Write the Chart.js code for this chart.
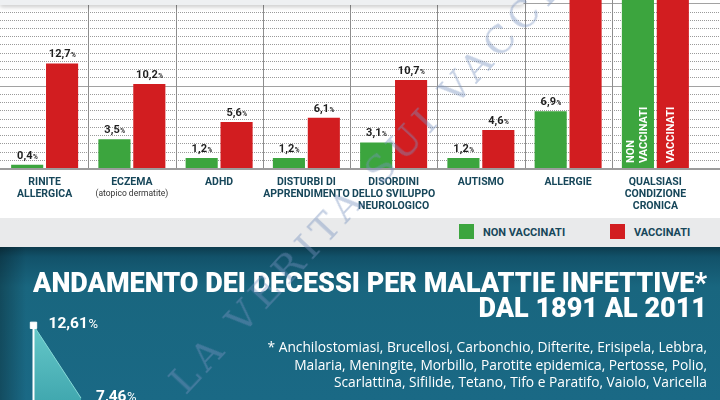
<!DOCTYPE html>
<html>
<head>
<meta charset="utf-8">
<script src="https://cdn.jsdelivr.net/npm/chart.js@4.4.0/dist/chart.umd.min.js"></script>
<style>
  html, body { margin: 0; padding: 0; width: 720px; height: 400px; overflow: hidden; background: #fff; }
  #wrap { position: relative; width: 720px; height: 400px; overflow: hidden; }
  #barCanvas { position: absolute; left: 0; top: 0; }
  #card { position: absolute; left: 0; top: 0; width: 525px; height: 5px; background: #eef0f2;
          border-bottom-right-radius: 6px; box-shadow: 0 2px 4px rgba(0,0,0,0.22); }
  #legendBand { position: absolute; left: 0; top: 218px; width: 720px; height: 29px; background: #e9eaeb; }
  .sw { position: absolute; top: 6px; width: 15px; height: 15px; }
  .lg { position: absolute; top: 0; font: 700 11px Roboto, sans-serif; line-height: 29px; color: #17475a; }
  #dark { position: absolute; left: 0; top: 247px; width: 720px; height: 153px;
          background: linear-gradient(to right, rgba(0,0,0,0.28) 0px, rgba(0,0,0,0) 26px),
                      linear-gradient(to bottom, #0d3c4e 0px, #12526a 10px, #19667f 40px, #1a6985 100%); }
  #areaCanvas { position: absolute; left: 0; top: 247px; }
  .title { position: absolute; color: #fff; font-family: Roboto, sans-serif; font-weight: 900; white-space: nowrap; line-height: 30px; }
  .note { position: absolute; right: 13px; color: #fff; font-family: "Open Sans", sans-serif; white-space: nowrap; line-height: 18px; }
  #watermark { position: absolute; left: 160px; top: 372px; transform-origin: 0 0; transform: rotate(-47deg);
               font: 38px "DejaVu Serif", serif; letter-spacing: 6px; white-space: nowrap;
               color: rgba(120, 145, 190, 0.42); pointer-events: none; }
</style>
</head>
<body>
<div id="wrap">
  <canvas id="barCanvas" width="720" height="218"></canvas>
  <div id="card"></div>
  <div id="legendBand">
    <div class="sw" style="left:459px;background:#3ca53e"></div>
    <div class="lg" style="left:483px">NON VACCINATI</div>
    <div class="sw" style="left:610px;background:#d21d20"></div>
    <div class="lg" style="left:634px">VACCINATI</div>
  </div>
  <div id="dark"></div>
  <canvas id="areaCanvas" width="720" height="262"></canvas>
  <div class="title" id="title1" style="left:33px;top:268px">ANDAMENTO DEI DECESSI PER MALATTIE INFETTIVE*</div>
  <div class="title" id="title2" style="right:13px;top:293px">DAL 1891 AL 2011</div>
  <div class="note" id="note1" style="top:338px">* Anchilostomiasi, Brucellosi, Carbonchio, Difterite, Erisipela, Lebbra,</div>
  <div class="note" id="note2" style="top:356px">Malaria, Meningite, Morbillo, Parotite epidemica, Pertosse, Polio,</div>
  <div class="note" id="note3" style="top:373px">Scarlattina, Sifilide, Tetano, Tifo e Paratifo, Vaiolo, Varicella</div>
  <div id="watermark">LA VERITA SUI VACCINI</div>
</div>

<script>
// Categories (one entry per line of the label)
const categories = [
    ['RINITE', 'ALLERGICA'],
    ['ECZEMA'],
    ['ADHD'],
    ['DISTURBI DI', 'APPRENDIMENTO'],
    ['DISORDINI', 'DELLO SVILUPPO', 'NEUROLOGICO'],
    ['AUTISMO'],
    ['ALLERGIE'],
    ['QUALSIASI', 'CONDIZIONE', 'CRONICA']
];
const categoryNotes = ['', '(atopico dermatite)', '', '', '', '', '', ''];

// Percentages (the last ones run off the top of the picture)
const nonVaccinati = [0.4, 3.5, 1.2, 1.2, 3.1, 1.2, 6.9, 25.0];
const vaccinati = [12.7, 10.2, 5.6, 6.1, 10.7, 4.6, 22.2, 44.0];

// Deaths from infectious diseases, share in %
const anniDecessi = [1891, 1900];
const quotaDecessi = [12.61, 7.46];

const GREEN = '#3ca53e';
const RED = '#d21d20';
const Y_MAX = 20.4;

// Format "12,7" with a small percent sign
function drawPercent(ctx, value, decimals, cx, cy, bigFont, smallFont, align) {
    const num = value.toFixed(decimals).replace('.', ',');
    ctx.font = bigFont;
    const w1 = ctx.measureText(num).width;
    ctx.font = smallFont;
    const w2 = ctx.measureText('%').width;
    let x = align === 'left' ? cx : cx - (w1 + w2) / 2;
    ctx.textAlign = 'left';
    ctx.textBaseline = 'alphabetic';
    ctx.font = bigFont;
    ctx.fillText(num, x, cy);
    ctx.font = smallFont;
    ctx.fillText('%', x + w1 + 0.5, cy);
}

// Grid, separators and baseline behind the bars
const barGrid = {
    id: 'barGrid',
    beforeDatasetsDraw(chart) {
        const ctx = chart.ctx;
        const y = chart.scales.y;
        const area = chart.chartArea;
        ctx.save();
        for (let v = 1; v <= 20; v++) {
            const py = Math.round(y.getPixelForValue(v)) + 0.5;
            ctx.beginPath();
            if (v % 10 === 0) {
                ctx.setLineDash([]);
                ctx.strokeStyle = '#a2a2a2';
            } else {
                ctx.setLineDash([1, 1]);
                ctx.strokeStyle = '#9a9a9a';
            }
            ctx.lineWidth = 1;
            ctx.moveTo(0, py);
            ctx.lineTo(720, py);
            ctx.stroke();
        }
        ctx.setLineDash([]);
        // vertical separators between categories
        const step = (area.right - area.left) / categories.length;
        ctx.strokeStyle = '#8e8e8e';
        for (let i = 1; i < categories.length; i++) {
            const px = Math.round(area.left + i * step) + 0.5;
            ctx.beginPath();
            ctx.moveTo(px, area.top);
            ctx.lineTo(px, area.bottom);
            ctx.stroke();
        }
        ctx.restore();
    },
    afterDatasetsDraw(chart) {
        const ctx = chart.ctx;
        const area = chart.chartArea;
        ctx.save();
        // baseline
        ctx.strokeStyle = '#9c9c9c';
        ctx.lineWidth = 2;
        ctx.beginPath();
        ctx.moveTo(0, area.bottom + 1);
        ctx.lineTo(720, area.bottom + 1);
        ctx.stroke();

        // value labels
        ctx.fillStyle = '#1e1e1e';
        chart.data.datasets.forEach((ds, di) => {
            chart.getDatasetMeta(di).data.forEach((el, i) => {
                if (ds.data[i] > Y_MAX) return;
                drawPercent(ctx, ds.data[i], 1, el.x, el.y - 6, '700 11px Roboto', '700 6.5px Roboto');
            });
        });

        // text inside the last (clipped) bars
        const g = chart.getDatasetMeta(0).data[7];
        const r = chart.getDatasetMeta(1).data[7];
        ctx.fillStyle = '#ffffff';
        ctx.font = '700 11px Roboto';
        ctx.textAlign = 'left';
        ctx.textBaseline = 'middle';
        ctx.save();
        ctx.translate(g.x, area.bottom - 5);
        ctx.rotate(-Math.PI / 2);
        ctx.fillText('NON', 0, -6.5);
        ctx.fillText('VACCINATI', 0, 6.5);
        ctx.restore();
        ctx.save();
        ctx.translate(r.x - 2, area.bottom - 5);
        ctx.rotate(-Math.PI / 2);
        ctx.fillText('VACCINATI', 0, 0);
        ctx.restore();

        // category labels under the axis
        const x = chart.scales.x;
        ctx.textAlign = 'center';
        ctx.textBaseline = 'middle';
        categories.forEach((lines, i) => {
            const px = x.getPixelForValue(i);
            ctx.fillStyle = '#17475a';
            ctx.font = '700 10.5px Roboto';
            lines.forEach((t, k) => ctx.fillText(t, px, 182.5 + k * 11.7));
            if (categoryNotes[i]) {
                ctx.fillStyle = '#333333';
                ctx.font = '400 8.5px Roboto';
                ctx.fillText(categoryNotes[i], px, 182.5 + lines.length * 11.7);
            }
        });
        ctx.restore();
    }
};

new Chart(document.getElementById('barCanvas').getContext('2d'), {
    type: 'bar',
    data: {
        labels: categories.map(c => c.join(' ')),
        datasets: [
            { label: 'NON VACCINATI', data: nonVaccinati, backgroundColor: GREEN,
              categoryPercentage: 0.8, barPercentage: 0.92 },
            { label: 'VACCINATI', data: vaccinati, backgroundColor: RED,
              categoryPercentage: 0.8, barPercentage: 0.92 }
        ]
    },
    options: {
        responsive: false,
        animation: false,
        layout: { padding: { left: 1, right: 21, top: 0, bottom: 50 } },
        plugins: { legend: { display: false }, tooltip: { enabled: false } },
        scales: {
            x: { display: false },
            y: { display: false, min: 0, max: Y_MAX }
        }
    },
    plugins: [barGrid]
});

// Area chart in the dark section
const areaExtras = {
    id: 'areaExtras',
    afterDatasetsDraw(chart) {
        const ctx = chart.ctx;
        const pts = chart.getDatasetMeta(0).data;
        const area = chart.chartArea;
        ctx.save();
        ctx.strokeStyle = '#ffffff';
        ctx.lineWidth = 2;
        ctx.beginPath();
        ctx.moveTo(pts[0].x, pts[0].y + 3);
        ctx.lineTo(pts[0].x, area.bottom);
        ctx.stroke();
        ctx.fillStyle = '#ffffff';
        pts.forEach((p, i) => {
            drawPercent(ctx, quotaDecessi[i], 2, p.x + 15, p.y + 3, '700 15.5px Roboto', '400 13px Roboto', 'left');
        });
        ctx.restore();
    }
};

new Chart(document.getElementById('areaCanvas').getContext('2d'), {
    type: 'line',
    data: {
        datasets: [{
            label: 'Decessi',
            data: anniDecessi.map((a, i) => ({ x: a, y: quotaDecessi[i] })),
            fill: 'origin',
            backgroundColor: (c) => {
                const area = c.chart.chartArea;
                if (!area) return '#52b8bb';
                const g = c.chart.ctx.createLinearGradient(0, 70, 0, 160);
                g.addColorStop(0, '#6acccc');
                g.addColorStop(1, '#3ea5ad');
                return g;
            },
            borderColor: '#86d9d6',
            borderWidth: 1,
            tension: 0,
            clip: false,
            pointStyle: 'rect',
            pointRadius: (c) => c.dataIndex === 0 ? 4.5 : 0,
            pointBackgroundColor: '#ffffff',
            pointBorderColor: '#ffffff'
        }]
    },
    options: {
        responsive: false,
        animation: false,
        layout: { padding: { left: 33.5, right: 53, top: 58.7, bottom: 0 } },
        plugins: { legend: { display: false }, tooltip: { enabled: false } },
        scales: {
            x: { type: 'linear', display: false, min: 1891, max: 2011 },
            y: { display: false, min: 0, max: 14 }
        }
    },
    plugins: [areaExtras]
});

// Fit the title and note lines to their widths in the picture
function fitWidth(id, family, weight, target) {
    const el = document.getElementById(id);
    const c = document.createElement('canvas').getContext('2d');
    c.font = weight + ' 20px ' + family;
    const w = c.measureText(el.textContent).width;
    el.style.fontSize = (20 * target / w).toFixed(2) + 'px';
    return 20 * target / w;
}
const titleSize = fitWidth('title1', 'Roboto', '900', 674);
document.getElementById('title2').style.fontSize = titleSize.toFixed(2) + 'px';
const noteSize = fitWidth('note1', '"Open Sans"', '400', 440);
document.getElementById('note2').style.fontSize = noteSize.toFixed(2) + 'px';
document.getElementById('note3').style.fontSize = noteSize.toFixed(2) + 'px';
</script>
</body>
</html>
